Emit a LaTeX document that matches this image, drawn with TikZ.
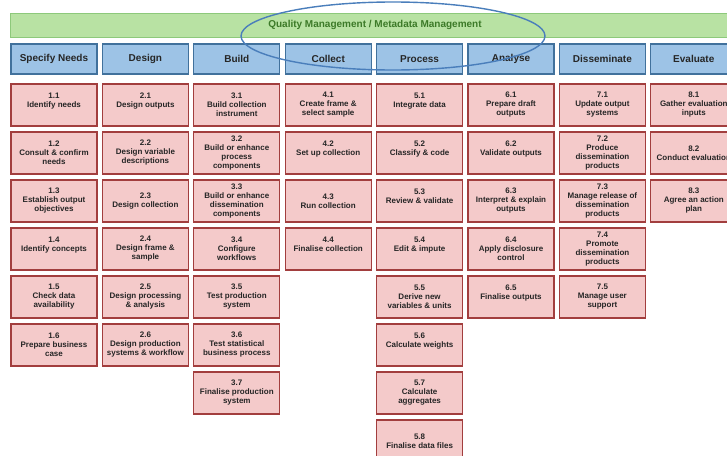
\documentclass[tikz,border=0pt]{standalone}
\usepackage{fontspec}
\setmainfont{Liberation Sans}
\usepackage{xcolor}
\definecolor{qmfill}{HTML}{B8E2A3}
\definecolor{qmline}{HTML}{8DC97B}
\definecolor{qmtext}{HTML}{3C7A28}
\definecolor{phasefill}{HTML}{9DC3E6}
\definecolor{phaseline}{HTML}{41719C}
\definecolor{taskfill}{HTML}{F4CACA}
\definecolor{taskline}{HTML}{A23E3E}
\definecolor{ringline}{HTML}{4A7EBB}

\begin{document}
\begin{tikzpicture}[x=1pt,y=-1pt,
    qmbar/.style={draw=qmline, line width=1pt, fill=qmfill, minimum width=730pt, minimum height=24pt, inner sep=0pt, text=qmtext, font=\fontsize{10}{12}\selectfont\bfseries},
    phase/.style={draw=phaseline, line width=1.3pt, fill=phasefill, minimum width=86pt, minimum height=30pt, inner sep=0pt, text=black!85, font=\fontsize{10}{12}\selectfont\bfseries},
    task/.style={draw=taskline, line width=1.3pt, fill=taskfill, minimum width=86pt, minimum height=42pt, inner sep=0pt, align=center, text=black!85, font=\fontsize{8}{9}\selectfont\bfseries},
    ring/.style={draw=ringline, line width=1.4pt}]
    \useasboundingbox (0,0) rectangle (727,455);
    \clip (0,0) rectangle (727,455);

    % overarching process
    \node[qmbar] (qm) at (375,25) {Quality Management / Metadata Management};

    % phases
    \node[phase] (specify) at (54,59) {Specify Needs};
    \node[phase] (design) at (145.4,59) {Design};
    \node[phase] (build) at (236.8,59) {Build};
    \node[phase] (collect) at (328.2,59) {Collect};
    \node[phase] (process) at (419.6,59) {Process};
    \node[phase] (analyse) at (511,59) {Analyse};
    \node[phase] (disseminate) at (602.4,59) {Disseminate};
    \node[phase] (evaluate) at (693.8,59) {Evaluate};

    % sub-processes, column by column
    \node[task] (t11) at (54,105) {1.1\\Identify needs\\~};
    \node[task] (t12) at (54,153) {1.2\\Consult \& confirm\\needs};
    \node[task] (t13) at (54,201) {1.3\\Establish output\\objectives};
    \node[task] (t14) at (54,249) {1.4\\Identify concepts\\~};
    \node[task] (t15) at (54,297) {1.5\\Check data\\availability};
    \node[task] (t16) at (54,345) {1.6\\Prepare business\\case};

    \node[task] (t21) at (145.4,105) {2.1\\Design outputs\\~};
    \node[task] (t22) at (145.4,153) {2.2\\Design variable\\descriptions};
    \node[task] (t23) at (145.4,201) {2.3\\Design collection};
    \node[task] (t24) at (145.4,249) {2.4\\Design frame \&\\sample};
    \node[task] (t25) at (145.4,297) {2.5\\Design processing\\\& analysis};
    \node[task] (t26) at (145.4,345) {2.6\\Design production\\systems \& workflow};

    \node[task] (t31) at (236.8,105) {3.1\\Build collection\\instrument};
    \node[task] (t32) at (236.8,153) {3.2\\Build or enhance\\process\\components};
    \node[task] (t33) at (236.8,201) {3.3\\Build or enhance\\dissemination\\components};
    \node[task] (t34) at (236.8,249) {3.4\\Configure\\workflows};
    \node[task] (t35) at (236.8,297) {3.5\\Test production\\system};
    \node[task] (t36) at (236.8,345) {3.6\\Test statistical\\business process};
    \node[task] (t37) at (236.8,393) {3.7\\Finalise production\\system};

    \node[task] (t41) at (328.2,105) {4.1\\Create frame \&\\select sample};
    \node[task] (t42) at (328.2,153) {4.2\\Set up collection\\~};
    \node[task] (t43) at (328.2,201) {4.3\\Run collection};
    \node[task] (t44) at (328.2,249) {4.4\\Finalise collection\\~};

    \node[task] (t51) at (419.6,105) {5.1\\Integrate data\\~};
    \node[task] (t52) at (419.6,153) {5.2\\Classify \& code\\~};
    \node[task] (t53) at (419.6,201) {5.3\\Review \& validate\\~};
    \node[task] (t54) at (419.6,249) {5.4\\Edit \& impute\\~};
    \node[task] (t55) at (419.6,297) {5.5\\Derive new\\variables \& units};
    \node[task] (t56) at (419.6,345) {5.6\\Calculate weights\\~};
    \node[task] (t57) at (419.6,393) {5.7\\Calculate\\aggregates};
    \node[task] (t58) at (419.6,441) {5.8\\Finalise data files};

    \node[task] (t61) at (511,105) {6.1\\Prepare draft\\outputs};
    \node[task] (t62) at (511,153) {6.2\\Validate outputs\\~};
    \node[task] (t63) at (511,201) {6.3\\Interpret \& explain\\outputs};
    \node[task] (t64) at (511,249) {6.4\\Apply disclosure\\control};
    \node[task] (t65) at (511,297) {6.5\\Finalise outputs\\~};

    \node[task] (t71) at (602.4,105) {7.1\\Update output\\systems};
    \node[task] (t72) at (602.4,153) {7.2\\Produce\\dissemination\\products};
    \node[task] (t73) at (602.4,201) {7.3\\Manage release of\\dissemination\\products};
    \node[task] (t74) at (602.4,249) {7.4\\Promote\\dissemination\\products};
    \node[task] (t75) at (602.4,297) {7.5\\Manage user\\support};

    \node[task] (t81) at (693.8,105) {8.1\\Gather evaluation\\inputs};
    \node[task] (t82) at (693.8,153) {8.2\\Conduct evaluation};
    \node[task] (t83) at (693.8,201) {8.3\\Agree an action\\plan};

    % hand-drawn highlight round the overarching process
    \draw[ring] (393,36) ellipse [x radius=152, y radius=34];
\end{tikzpicture}
\end{document}
